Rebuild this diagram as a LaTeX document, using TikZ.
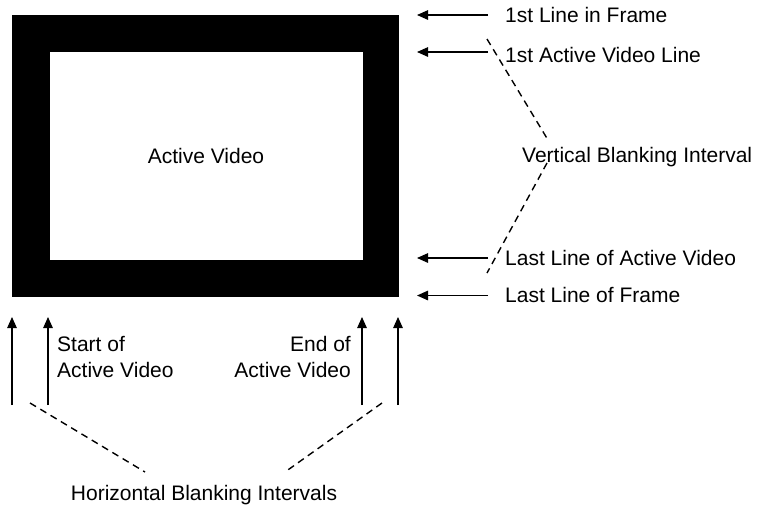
\documentclass[tikz,border=0pt]{standalone}
\usepackage{fontspec}
\setmainfont{Liberation Sans}
\usetikzlibrary{arrows.meta}
\begin{document}
\begin{tikzpicture}[x=1pt,y=-1pt,
  lbl/.style={inner sep=0pt, font=\fontsize{21}{26}\selectfont},
  pointer/.style={line width=1.3pt, -{Triangle[length=11pt,width=9.5pt]}},
  brace/.style={line width=1.4pt, dash pattern=on 7pt off 5pt}]
\useasboundingbox (0,0) rectangle (759,507);

% blanking frame and active picture area
\node (frame) [fill=black, inner sep=0pt, minimum width=387pt, minimum height=282pt] at (205.5,156) {};
\node (active) [fill=white, inner sep=0pt, minimum width=313pt, minimum height=208pt,
  font=\fontsize{21}{26}\selectfont] at (206,156) {Active Video};

% line markers on the right
\node (l1) [lbl, anchor=base west] at (505,22.5) {1st Line in Frame};
\node (l2) [lbl, anchor=base west] at (505,62) {1st Active Video Line};
\node (vb) [lbl, anchor=base west] at (522,162) {Vertical Blanking Interval};
\node (l3) [lbl, anchor=base west] at (505,265.5) {Last Line of Active Video};
\node (l4) [lbl, anchor=base west] at (505,302.5) {Last Line of Frame};

\coordinate (a1s) at (488,15);   \coordinate (a1e) at (417,15);
\coordinate (a2s) at (488,52);   \coordinate (a2e) at (417,52);
\coordinate (a3s) at (488,258);  \coordinate (a3e) at (417,258);
\coordinate (a4s) at (488,295.5);\coordinate (a4e) at (417,295.5);
\draw[pointer] (a1s) -- (a1e);
\draw[pointer] (a2s) -- (a2e);
\draw[pointer] (a3s) -- (a3e);
\draw[pointer] (a4s) -- (a4e);

\coordinate (v1) at (487,39);  \coordinate (v2) at (548,140);
\coordinate (v3) at (547,163); \coordinate (v4) at (487,273);
\draw[brace] (v1) -- (v2);
\draw[brace] (v3) -- (v4);

% column markers below
\coordinate (b1s) at (12,405);  \coordinate (b1e) at (12,317);
\coordinate (b2s) at (48,405);  \coordinate (b2e) at (48,317);
\coordinate (b3s) at (362,405); \coordinate (b3e) at (362,317);
\coordinate (b4s) at (398,405); \coordinate (b4e) at (398,317);
\draw[pointer] (b1s) -- (b1e);
\draw[pointer] (b2s) -- (b2e);
\draw[pointer] (b3s) -- (b3e);
\draw[pointer] (b4s) -- (b4e);

\node (sa) [lbl, anchor=north west, align=left] at (57,336) {Start of\\Active Video};
\node (ea) [lbl, anchor=north east, align=right] at (351,336) {End of\\Active Video};

\node (hb) [lbl, anchor=base] at (204,500) {Horizontal Blanking Intervals};
\coordinate (h1) at (30,403);  \coordinate (h2) at (145,472);
\coordinate (h3) at (382,403); \coordinate (h4) at (285,472);
\draw[brace] (h1) -- (h2);
\draw[brace] (h3) -- (h4);
\end{tikzpicture}
\end{document}
